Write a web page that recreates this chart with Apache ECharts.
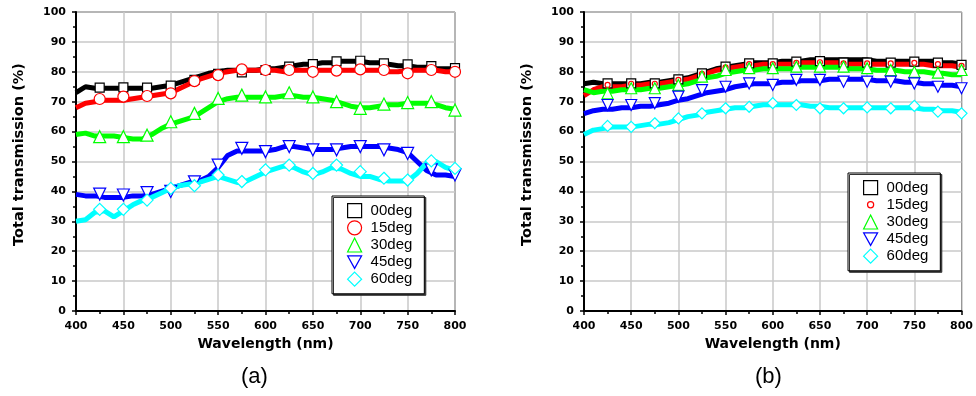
<!DOCTYPE html>
<html>
<head>
<meta charset="utf-8">
<script src="https://cdn.jsdelivr.net/npm/echarts@6/dist/echarts.min.js"></script>
<style>
  html, body { margin: 0; padding: 0; background: #fff; }
  #chart { width: 976px; height: 396px; }
</style>
</head>
<body>
<div id="chart"></div>
<script>
// wavelength grid for the measured curves, and the marker positions
var wl = [400, 410, 420, 430, 440, 450, 460, 470, 480, 490, 500, 510, 520, 530, 540, 550, 560, 570, 580, 590,
  600, 610, 620, 630, 640, 650, 660, 670, 680, 690, 700, 710, 720, 730, 740, 750, 760, 770, 780, 790, 800];
var markWl = [425, 450, 475, 500, 525, 550, 575, 600, 625, 650, 675, 700, 725, 750, 775, 800];

var names = ['00deg', '15deg', '30deg', '45deg', '60deg'];
var colors = ['#000000', '#ff0000', '#00ff00', '#0000ff', '#00ffff'];

// (a) curves
var a00 = [73, 75, 74.5, 74.5, 74.5, 74.5, 74.5, 74.5, 74.5, 75, 75.5, 76.5, 77.5, 78.5, 79.5, 80, 80.5, 80.5, 80.5, 80.5,
  81, 81, 81.5, 82, 82.5, 82.5, 83, 83, 83.5, 83.5, 83.5, 83, 83, 82.5, 82, 82, 81.5, 81.5, 81, 81, 81];
var a15 = [68, 69.5, 70, 70.5, 70.5, 70.5, 71, 71.5, 72, 72.5, 73, 74.5, 76, 77.5, 78.5, 79.5, 80, 80.5, 80.5, 80.5,
  80.5, 80.5, 80, 80.5, 80.5, 80.5, 80.5, 80.5, 80.5, 80.5, 80.5, 80.5, 80.5, 80, 80, 80.5, 80.5, 80.5, 80.5, 80, 80];
var a30 = [59, 59.5, 58.5, 58.5, 58.5, 58, 57.5, 57.5, 59, 61, 62.5, 63.5, 64.5, 66, 68, 70, 71, 71.5, 71.5, 71.5,
  71.5, 71.5, 72, 72, 71.5, 71.5, 71, 70.5, 69.5, 68.5, 68, 68, 68.5, 69, 69, 69.5, 69.5, 69.5, 69, 68, 67.5];
var a45 = [39, 38.5, 38.5, 38, 38, 38, 38.5, 38.5, 39, 40, 41, 42, 43, 43.5, 45, 48, 52, 53.5, 53.5, 53.5,
  53.5, 54, 55, 55, 54.5, 54, 54, 54, 54.5, 55, 55, 55, 55, 54.5, 54, 53, 50, 47, 45.5, 45.5, 45];
var a60 = [30, 30.5, 33, 33.5, 31.5, 33.5, 35.5, 37, 38, 39.5, 41, 42, 42.5, 43, 44, 45, 44, 43, 43.5, 45,
  46.5, 47.5, 48.5, 48, 46.5, 45.5, 46.5, 48, 47.5, 46, 45, 45, 44, 43.5, 43.5, 43.5, 46, 49.5, 50, 48, 47];

// (a) markers
var a00m = [74.7, 74.8, 74.7, 75.4, 77.3, 79.3, 79.8, 80.6, 81.7, 82.6, 83.5, 83.7, 82.8, 82.5, 81.9, 81.2];
var a15m = [70.9, 71.7, 71.9, 72.8, 76.9, 78.9, 80.8, 80.6, 80.6, 80.0, 80.4, 80.8, 80.6, 79.5, 80.6, 80.0];
var a30m = [58.3, 58.3, 58.8, 63.3, 66.1, 71.1, 72.2, 71.6, 73.0, 71.6, 70.0, 67.8, 69.2, 69.7, 70.0, 67.2];
var a45m = [39.1, 38.8, 39.6, 40.0, 43.2, 48.8, 54.4, 53.3, 55.0, 53.9, 53.9, 55.0, 53.9, 52.7, 47.2, 45.5];
var a60m = [34.0, 34.0, 37.1, 41.0, 41.9, 45.5, 43.3, 47.2, 48.8, 46.0, 48.8, 46.6, 44.4, 43.8, 50.2, 47.7];

// (b) curves
var b00 = [76, 76.5, 76, 76, 76, 76, 76, 76.5, 76.5, 77, 77.5, 78, 79, 80, 81, 81.5, 82, 82.5, 83, 83,
  83, 83.5, 83.5, 83.5, 84, 84, 84, 84, 84, 84, 84, 83.5, 83.5, 83.5, 83.5, 83.5, 83.5, 83.5, 83, 83, 82.5];
var b15 = [72, 74, 75, 75, 75, 75.5, 75.5, 76, 76, 76.5, 77, 77.5, 78.5, 79.5, 80.5, 81, 81.5, 82, 82, 82.5,
  82.5, 82.5, 82.5, 83, 83, 83, 83, 83, 82.5, 82.5, 82.5, 82.5, 82.5, 82.5, 82.5, 82.5, 82.5, 82, 82, 82, 81.5];
var b30 = [74, 73, 73.5, 73.5, 74, 74, 74, 74.5, 74.5, 75, 75.5, 76, 77, 78, 78.5, 79.5, 80, 80.5, 80.5, 81,
  81, 81, 81, 81.5, 81.5, 81.5, 81.5, 81.5, 81, 81, 81, 80.5, 80.5, 80.5, 80, 80, 80, 79.5, 79.5, 79, 79];
var b45 = [66, 67, 67.5, 67.5, 68, 68, 68.5, 68.5, 69, 69.5, 70.5, 71, 72, 73, 73.5, 74, 75, 75.5, 76, 76,
  76, 76.5, 76.5, 77, 77, 77, 77.5, 77.5, 77.5, 77.5, 77.5, 77, 77, 77, 76.5, 76.5, 76, 76, 75.5, 75.5, 75];
var b60 = [59, 60.5, 61, 61.5, 61.5, 61.5, 62, 62.5, 62.5, 63, 64, 65, 65.5, 66.5, 67, 67.5, 68, 68, 68.5, 69,
  69, 69, 69, 69, 68.5, 68.5, 68, 68, 68, 68, 68, 68, 68, 68, 68, 68, 67.5, 67.5, 67, 67, 66.5];

// (b) markers
var b00m = [76.1, 76.1, 76.1, 77.5, 79.5, 81.7, 82.8, 82.8, 83.4, 83.6, 83.1, 83.1, 83.1, 83.4, 83.1, 82.3];
var b15m = [75.6, 76.0, 76.0, 77.3, 79.3, 81.5, 82.6, 82.6, 83.0, 83.2, 82.8, 82.8, 82.8, 83.0, 82.6, 82.0];
var b30m = [72.8, 74.5, 74.5, 75.6, 78.4, 80.6, 81.2, 81.2, 81.7, 81.7, 81.7, 81.2, 80.6, 80.0, 79.7, 80.6];
var b45m = [68.9, 68.9, 69.5, 71.7, 73.9, 75.0, 76.1, 75.6, 77.3, 77.3, 76.7, 76.7, 76.7, 76.1, 75.0, 74.5];
var b60m = [61.9, 61.6, 62.8, 64.4, 66.1, 67.8, 68.3, 69.5, 68.9, 67.8, 67.8, 68.1, 67.8, 68.6, 66.7, 66.1];

var curvesA = [a00, a15, a30, a45, a60];
var marksA = [a00m, a15m, a30m, a45m, a60m];
var curvesB = [b00, b15, b30, b45, b60];
var marksB = [b00m, b15m, b30m, b45m, b60m];

var symbols = ['rect', 'circle', 'triangle', 'triangle', 'diamond'];
var rotates = [0, 0, 0, 180, 0];
var sizesA = [9, 11, 12, 12, 12];
var sizesB = [9, 5, 11, 11, 11];
var downTri = 'path://M0,0L10,0L5,9Z';
// small circle inside a 10x10 box, for the (b) legend
var smallCircle = 'path://M0,0M10,10M2.8,5a2.2,2.2 0 1,0 4.4,0a2.2,2.2 0 1,0 -4.4,0Z';
var diamondPath = 'path://M5,0L10,5L5,10L0,5Z';
var iconsA = ['rect', 'circle', 'triangle', downTri, diamondPath];
var iconsB = ['rect', smallCircle, 'triangle', downTri, diamondPath];

function pairs(xs, ys) {
  var out = [];
  for (var i = 0; i < xs.length; i++) out.push([xs[i], ys[i]]);
  return out;
}

var labelFont = { fontFamily: 'DejaVu Sans', fontWeight: 'bold', fontSize: 11, color: '#000' };
var titleFont = { fontFamily: 'DejaVu Sans', fontWeight: 'bold', fontSize: 14, color: '#000' };

function xAx(idx) {
  return {
    gridIndex: idx, type: 'value', min: 400, max: 800, interval: 50,
    name: 'Wavelength (nm)', nameLocation: 'middle', nameGap: 24,
    nameTextStyle: titleFont,
    axisLine: { lineStyle: { color: '#000', width: 2 } },
    axisTick: { show: true, inside: false, length: 4, lineStyle: { color: '#000', width: 1.5 } },
    minorTick: { show: true, splitNumber: 2, length: 3, lineStyle: { color: '#000', width: 1.5 } },
    axisLabel: Object.assign({ margin: 10 }, labelFont),
    splitLine: { show: true, lineStyle: { color: '#c8c8c8', width: 1.5 } }
  };
}

function yAx(idx) {
  return {
    gridIndex: idx, type: 'value', min: 0, max: 100, interval: 10,
    name: 'Total transmission (%)', nameLocation: 'middle', nameGap: 49,
    nameTextStyle: Object.assign({}, titleFont, { fontSize: 14.5, padding: [0, 0, 0, 14] }),
    axisLine: { show: true, lineStyle: { color: '#000', width: 2 } },
    axisTick: { show: true, length: 4, lineStyle: { color: '#000', width: 1.5 } },
    minorTick: { show: true, splitNumber: 2, length: 3, lineStyle: { color: '#000', width: 1.5 } },
    axisLabel: Object.assign({ margin: 10 }, labelFont),
    splitLine: { show: true, lineStyle: { color: '#c8c8c8', width: 1.5 } }
  };
}

var series = [];
function addPanel(idx, curves, marks, sizes) {
  for (var k = 0; k < 5; k++) {
    series.push({
      name: names[k] + ' curve ' + idx, type: 'line', xAxisIndex: idx, yAxisIndex: idx,
      data: pairs(wl, curves[k]), showSymbol: false, symbol: 'none', smooth: false,
      lineStyle: { color: colors[k], width: 5 }, z: 2, silent: true
    });
  }
  for (var k = 0; k < 5; k++) {
    series.push({
      name: names[k], type: 'scatter', xAxisIndex: idx, yAxisIndex: idx,
      data: pairs(markWl, marks[k]), symbol: symbols[k], symbolRotate: rotates[k],
      symbolSize: sizes[k],
      itemStyle: { color: '#fff', borderColor: colors[k], borderWidth: 1.2, opacity: 1 },
      z: 3
    });
  }
}
addPanel(0, curvesA, marksA, sizesA);
addPanel(1, curvesB, marksB, sizesB);

function legendAt(left, top, icons) {
  return {
    orient: 'vertical', left: left, top: top,
    data: names.map(function (n, i) {
      return { name: n, icon: icons[i], itemStyle: { color: '#fff', borderColor: colors[i], borderWidth: 1.2 } };
    }),
    itemWidth: 14, itemHeight: 14, itemGap: 2,
    padding: [7, 12, 7, 15],
    backgroundColor: '#fff', borderColor: '#000', borderWidth: 1,
    shadowColor: '#333', shadowBlur: 0, shadowOffsetX: 1.5, shadowOffsetY: 1.5,
    selectedMode: false,
    textStyle: { fontFamily: 'Liberation Sans', fontSize: 15, color: '#000', padding: [0, 0, 0, 4] }
  };
}

var chart = echarts.init(document.getElementById('chart'), null, { renderer: 'canvas' });
chart.setOption({
  backgroundColor: '#fff',
  animation: false,
  grid: [
    { left: 76, right: 521, top: 12, bottom: 85, show: true, borderColor: '#000', borderWidth: 1, backgroundColor: 'transparent' },
    { left: 584, right: 12, top: 12, bottom: 85, show: true, borderColor: '#000', borderWidth: 1, backgroundColor: 'transparent' }
  ],
  xAxis: [xAx(0), xAx(1)],
  yAxis: [yAx(0), yAx(1)],
  legend: [legendAt(332, 196, iconsA), legendAt(848, 173, iconsB)],
  graphic: [
    { type: 'text', left: 241, top: 366, style: { text: '(a)', font: '22px "Liberation Sans"', fill: '#000' } },
    { type: 'text', left: 755, top: 366, style: { text: '(b)', font: '22px "Liberation Sans"', fill: '#000' } }
  ],
  series: series
});
</script>
</body>
</html>
